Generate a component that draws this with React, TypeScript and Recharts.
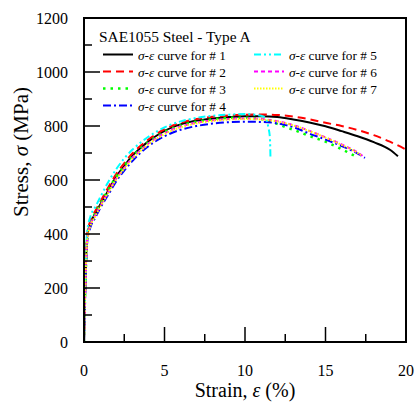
import React from 'react';
import { LineChart, Line, XAxis, YAxis, ReferenceArea } from 'recharts';

const xTicks = [0, 2.5, 5, 7.5, 10, 12.5, 15, 17.5, 20];
const xLabeled = [0, 5, 10, 15, 20];
const yTicks = [0, 100, 200, 300, 400, 500, 600, 700, 800, 900, 1000, 1100, 1200];
const yLabeled = [0, 200, 400, 600, 800, 1000, 1200];

const strain1 = [0, 0.1, 0.2, 0.4, 0.7, 1.0, 1.5, 2.0, 2.5, 3.0, 3.5, 4.0, 4.5, 5.0, 6.0, 7.0, 8.0, 9.0, 10.0, 11.0, 12.0, 13.0, 14.0, 15.0, 16.0, 17.0, 18.0, 19.0, 19.5];
const stress1 = [0, 250, 390, 440, 475, 508, 560, 612, 652, 690, 718, 743, 764, 782, 806, 820, 828, 833, 836, 836, 833, 824, 813, 799, 781, 762, 740, 712, 688];

const strain2 = [0, 0.1, 0.2, 0.4, 0.7, 1.0, 1.5, 2.0, 2.5, 3.0, 3.5, 4.0, 5.0, 6.0, 7.0, 8.0, 9.0, 10.0, 11.0, 12.0, 13.0, 14.0, 15.0, 16.0, 17.0, 18.0, 19.0, 20.0];
const stress2 = [0, 260, 400, 450, 485, 518, 572, 622, 662, 698, 726, 750, 788, 812, 826, 834, 839, 842, 843, 841, 835, 825, 812, 800, 785, 766, 742, 713];

const strain3 = [0, 0.1, 0.2, 0.4, 0.7, 1.0, 1.5, 2.0, 2.5, 3.0, 3.5, 4.0, 5.0, 6.0, 7.0, 8.0, 9.0, 10.0, 11.0, 12.0, 12.5, 13.0, 14.0, 15.0, 16.0, 16.8];
const stress3 = [0, 250, 385, 440, 478, 510, 563, 612, 652, 688, 716, 740, 778, 802, 816, 825, 830, 831, 826, 808, 796, 786, 763, 742, 714, 690];

const strain4 = [0, 0.1, 0.2, 0.4, 0.7, 1.0, 1.5, 2.0, 2.5, 3.0, 3.5, 4.0, 5.0, 6.0, 7.0, 8.0, 9.0, 10.0, 11.0, 12.0, 13.0, 14.0, 15.0, 16.0, 17.0, 17.45];
const stress4 = [0, 230, 370, 425, 460, 495, 545, 595, 635, 670, 700, 725, 762, 786, 800, 809, 814, 816, 815, 810, 796, 772, 750, 726, 698, 682];

const strain5 = [0, 0.1, 0.2, 0.4, 0.7, 1.0, 1.5, 2.0, 2.5, 3.0, 3.5, 4.0, 5.0, 6.0, 7.0, 8.0, 9.0, 10.0, 11.0, 11.3, 11.45, 11.55, 11.58];
const stress5 = [0, 280, 410, 465, 500, 535, 592, 640, 680, 712, 738, 760, 795, 817, 830, 838, 842, 844, 838, 828, 795, 755, 685];

const strain6 = [0, 0.1, 0.2, 0.4, 0.7, 1.0, 1.5, 2.0, 2.5, 3.0, 3.5, 4.0, 5.0, 6.0, 7.0, 8.0, 9.0, 10.0, 11.0, 12.0, 13.0, 14.0, 15.0, 16.0, 17.0, 17.3];
const stress6 = [0, 245, 380, 435, 470, 503, 555, 605, 645, 682, 710, 735, 773, 798, 812, 821, 826, 828, 826, 818, 803, 782, 758, 732, 702, 690];

const strain7 = [0, 0.1, 0.2, 0.4, 0.7, 1.0, 1.5, 2.0, 2.5, 3.0, 3.5, 4.0, 5.0, 6.0, 7.0, 8.0, 9.0, 10.0, 11.0, 12.0, 13.0, 14.0, 15.0, 16.0, 17.0, 17.2];
const stress7 = [0, 240, 375, 430, 466, 500, 552, 602, 642, 678, 707, 732, 770, 795, 810, 819, 824, 826, 824, 817, 802, 781, 757, 730, 700, 692];

const seriesNames = ['# 1', '# 2', '# 3', '# 4', '# 5', '# 6', '# 7'];
const chartTitle = 'SAE1055 Steel - Type A';

const toData = (xs: number[], ys: number[]) => xs.map((x, i) => ({ x, y: ys[i] }));

const series = [
  { name: seriesNames[0], data: toData(strain1, stress1), color: '#000000', dash: undefined as string | undefined, width: 2 },
  { name: seriesNames[1], data: toData(strain2, stress2), color: '#ff0000', dash: '8 5', width: 2 },
  { name: seriesNames[2], data: toData(strain3, stress3), color: '#00ff00', dash: '2.5 5', width: 2.5 },
  { name: seriesNames[3], data: toData(strain4, stress4), color: '#0000ff', dash: '8 3 2 3', width: 2 },
  { name: seriesNames[4], data: toData(strain5, stress5), color: '#00ffff', dash: '7 3 2 3 2 3', width: 2 },
  { name: seriesNames[5], data: toData(strain6, stress6), color: '#ff00ff', dash: '4 3', width: 2 },
  { name: seriesNames[6], data: toData(strain7, stress7), color: '#ffff00', dash: '1.5 1.5', width: 2 },
];

const FONT = '"Liberation Serif", "Times New Roman", serif';

const YTick = (props: any) => {
  const { x, y, payload } = props;
  const major = yLabeled.includes(payload.value);
  return (
    <g>
      <line x1={x} x2={x + (major ? 16 : 8)} y1={y} y2={y} stroke="#000" strokeWidth={1.5} />
      {major && (
        <text x={x - 16} y={y} textAnchor="end" dominantBaseline="central" style={{ fontFamily: FONT, fontSize: 16 }} fill="#000">
          {payload.value}
        </text>
      )}
    </g>
  );
};

const XTick = (props: any) => {
  const { x, y, payload } = props;
  const major = xLabeled.includes(payload.value);
  return (
    <g>
      <line x1={x} x2={x} y1={y} y2={y - (major ? 15 : 8)} stroke="#000" strokeWidth={1.5} />
      {major && (
        <text x={x} y={y + 28} textAnchor="middle" dominantBaseline="central" style={{ fontFamily: FONT, fontSize: 16 }} fill="#000">
          {payload.value}
        </text>
      )}
    </g>
  );
};

const LegendBox = () => {
  const rows = [
    [0, 0], [0, 1], [0, 2], [0, 3], [1, 0], [1, 1], [1, 2],
  ];
  return (
    <svg width={417} height={120} style={{ position: 'absolute', left: 0, top: 0, pointerEvents: 'none' }}>
      <text x={99} y={36} dominantBaseline="central" style={{ fontFamily: FONT, fontSize: 15.4 }} fill="#000">
        {chartTitle}
      </text>
      {series.map((s, i) => {
        const [col, row] = rows[i];
        const lx = col === 0 ? 103 : 254;
        const ly = 54.5 + row * 17;
        return (
          <g key={s.name}>
            <line x1={lx} x2={lx + 30} y1={ly} y2={ly} stroke={s.color} strokeWidth={s.width} strokeDasharray={s.dash} />
            <text x={lx + 35} y={ly} dominantBaseline="central" style={{ fontFamily: FONT, fontSize: 13.3 }} fill="#000">
              <tspan fontStyle="italic">σ-ε</tspan>
              <tspan> curve for {s.name}</tspan>
            </text>
          </g>
        );
      })}
    </svg>
  );
};

const YLabel = (props: any) => {
  const vb = props.viewBox || { x: 0, y: 18, width: 84, height: 324 };
  const cx = vb.x + 21;
  const cy = vb.y + vb.height / 2 - 28;
  return (
    <text x={cx} y={cy} transform={`rotate(-90, ${cx}, ${cy})`} textAnchor="middle" dominantBaseline="central" style={{ fontFamily: FONT, fontSize: 21 }} fill="#000">
      Stress, <tspan fontStyle="italic">σ</tspan> (MPa)
    </text>
  );
};

const XLabel = (props: any) => {
  const vb = props.viewBox || { x: 84, y: 342, width: 322, height: 62 };
  const cx = vb.x + vb.width / 2;
  const cy = vb.y + 48;
  return (
    <text x={cx} y={cy} textAnchor="middle" dominantBaseline="central" style={{ fontFamily: FONT, fontSize: 20 }} fill="#000">
      Strain, <tspan fontStyle="italic">ε</tspan> (%)
    </text>
  );
};

export default function App() {
  return (
    <div style={{ position: 'absolute', left: 0, top: 0, width: 417, height: 404, background: '#fff' }}>
      <LineChart width={417} height={404} margin={{ top: 18, right: 11, bottom: 0, left: 0 }}>
        <XAxis
          dataKey="x"
          type="number"
          domain={[0, 20]}
          ticks={xTicks}
          interval={0}
          allowDataOverflow
          tickSize={0}
          tickMargin={0}
          height={62}
          axisLine={{ stroke: '#000', strokeWidth: 2 }}
          tick={<XTick />}
          label={<XLabel />}
        />
        <YAxis
          type="number"
          domain={[0, 1200]}
          ticks={yTicks}
          interval={0}
          allowDataOverflow
          tickSize={0}
          tickMargin={0}
          width={84}
          axisLine={{ stroke: '#000', strokeWidth: 2 }}
          tick={<YTick />}
          label={<YLabel />}
        />
        <ReferenceArea x1={0} x2={20} y1={0} y2={1200} fill="none" stroke="#000" strokeWidth={2} />
        {series.map((s) => (
          <Line
            key={s.name}
            data={s.data}
            dataKey="y"
            name={s.name}
            type="monotone"
            stroke={s.color}
            strokeWidth={s.width}
            strokeDasharray={s.dash}
            dot={false}
            activeDot={false}
            isAnimationActive={false}
          />
        ))}
      </LineChart>
      <LegendBox />
    </div>
  );
}
